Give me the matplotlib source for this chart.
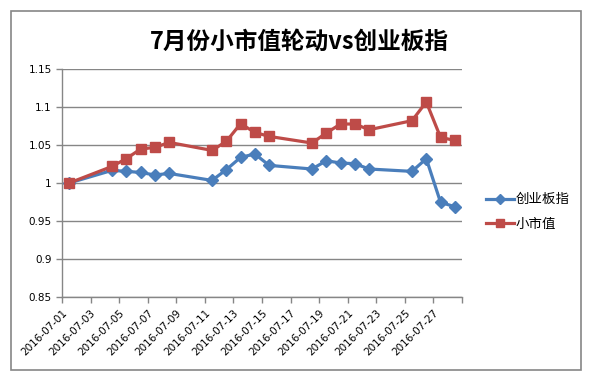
import numpy as np
import matplotlib
matplotlib.use('Agg')
import matplotlib.pyplot as plt
from matplotlib.patches import Rectangle
from matplotlib.ticker import FuncFormatter

plt.rcParams['font.family'] = ['Noto Sans CJK SC', 'DejaVu Sans']

# trading days in July 2016 (day of month)
days = [1, 4, 5, 6, 7, 8, 11, 12, 13, 14, 15, 18, 19, 20, 21, 22, 25, 26, 27, 28]

# 创业板指
cyb = [1.000, 1.0166, 1.0153, 1.0139, 1.0105, 1.0126, 1.0034, 1.0175, 1.0337, 1.0382,
       1.0232, 1.0184, 1.0293, 1.0263, 1.0254, 1.0184, 1.0153, 1.0320, 0.9745, 0.9688]
# 小市值
xsz = [1.000, 1.0218, 1.0320, 1.0447, 1.0468, 1.0534, 1.0429, 1.0547, 1.0780, 1.0666,
       1.0613, 1.0526, 1.0658, 1.0776, 1.0776, 1.0701, 1.0820, 1.1066, 1.0600, 1.0560]

tick_days = list(range(1, 30, 2))
tick_labels = ['2016-07-%02d' % d for d in range(1, 28, 2)] + ['']

blue = '#4A7EBB'
red = '#BE4B48'
grey = '#868686'

fig = plt.figure(figsize=(5.98, 3.73), dpi=100)
fig.patches.append(Rectangle((11 / 598, 3 / 373), 570 / 598, 359 / 373,
                             transform=fig.transFigure, fill=False,
                             edgecolor=grey, linewidth=1.2))

ax = fig.add_axes([62 / 598, 76 / 373, 400 / 598, 228 / 373])

# Excel date axis: each day is a bin, points sit in the middle
ax.plot(days, cyb, color=blue, linewidth=2.3, marker='D', markersize=6.5,
        label='创业板指', zorder=3)
ax.plot(days, xsz, color=red, linewidth=2.3, marker='s', markersize=7.2,
        label='小市值', zorder=3)

ax.set_xlim(0.5, 28.5)
ax.set_ylim(0.85, 1.15)
ax.set_yticks(np.arange(0.85, 1.151, 0.05))
ax.yaxis.set_major_formatter(FuncFormatter(lambda v, p: '%g' % round(v, 2)))
ax.set_xticks([d - 0.5 for d in tick_days])
ax.set_xticklabels(tick_labels, rotation=45, ha='right', rotation_mode='anchor')

ax.grid(axis='y', color=grey, linewidth=1)
ax.set_axisbelow(True)
for s in ['top', 'right']:
    ax.spines[s].set_visible(False)
for s in ['left', 'bottom']:
    ax.spines[s].set_color(grey)
    ax.spines[s].set_linewidth(1)
ax.tick_params(axis='both', colors=grey, length=4, width=1, labelcolor='black',
               labelsize=7.5)
for lab in ax.get_xticklabels() + ax.get_yticklabels():
    lab.set_fontfamily('DejaVu Sans')

fig.text(299 / 598, 1 - 42 / 373, '7月份小市值轮动vs创业板指', ha='center', va='center',
         fontsize=17, fontweight='bold')

ax.legend(loc='center left', bbox_to_anchor=(1.03, 0.375), frameon=False,
          fontsize=9.7, handlelength=2.1, handletextpad=0.1, labelspacing=0.75,
          markerscale=0.75)

fig.savefig('out.png', dpi=100)
